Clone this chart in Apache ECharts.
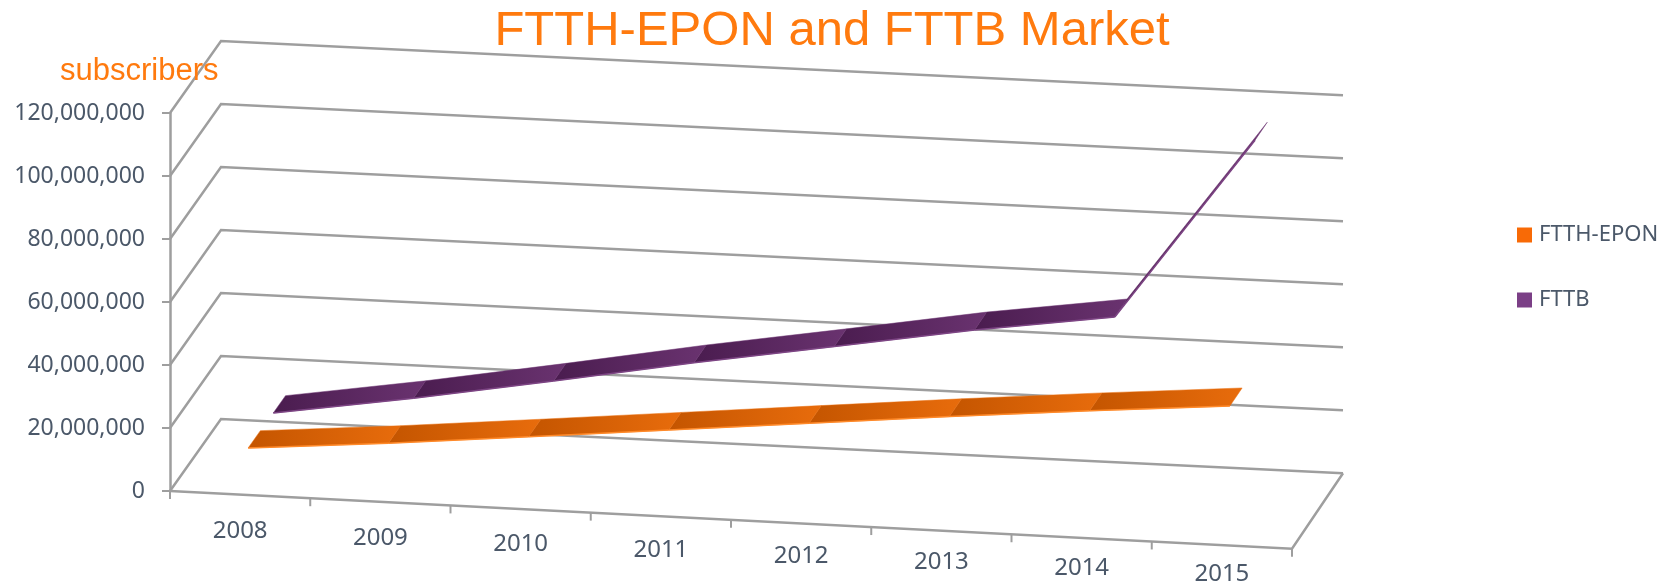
<!DOCTYPE html>
<html>
<head>
<meta charset="utf-8">
<script src="https://cdn.jsdelivr.net/npm/echarts@6/dist/echarts.min.js"></script>
<style>
html, body { margin: 0; padding: 0; background: #fff; }
#main { width: 1664px; height: 586px; }
</style>
</head>
<body>
<div id="main"></div>
<script>
var years = ['2008', '2009', '2010', '2011', '2012', '2013', '2014', '2015'];
var ftthEpon = [11200000, 15000000, 19300000, 23700000, 28100000, 32500000, 36600000, 40400000];
var fttb = [11000000, 17900000, 25600000, 33600000, 40900000, 48400000, 54700000, 113000000];
var yTicks = [0, 20000000, 40000000, 60000000, 80000000, 100000000, 120000000];

// oblique 3d look: front edge falls to the right, back wall a bit flatter
var SLOPE_FRONT = 0.0514;
var SLOPE_BACK = 0.0484;
var DEPTH = [51, -72];
var gridColor = '#9e9e9e';
var textColor = '#4b5869';

// cat: category index (fractional allowed), val: data value, d: depth 0 (front) .. 1 (back)
function project(api, cat, val, d) {
    var p0 = api.coord([0, val]);
    var bw = api.size([1, 0])[0];
    var run = (cat + 0.5) * bw;
    var slope = SLOPE_FRONT + (SLOPE_BACK - SLOPE_FRONT) * d;
    return [p0[0] - bw / 2 + run + d * DEPTH[0], p0[1] + run * slope + d * DEPTH[1]];
}

function ribbon(name, values, d0, d1, legendColor, dark, light, edge) {
    var segs = [];
    for (var i = 0; i < values.length - 1; i++) {
        segs.push([i, values[i], values[i + 1]]);
    }
    return {
        name: name,
        type: 'custom',
        itemStyle: {color: legendColor},
        data: segs,
        renderItem: function (params, api) {
            var i = api.value(0), a = api.value(1), b = api.value(2);
            var p1 = project(api, i, a, d0);
            var p2 = project(api, i + 1, b, d0);
            var p3 = project(api, i + 1, b, d1);
            var p4 = project(api, i, a, d1);
            return {
                type: 'group',
                children: [{
                    type: 'polygon',
                    shape: {points: [p1, p2, p3, p4]},
                    style: {
                        fill: new echarts.graphic.LinearGradient(0, 0, 1, 0, [
                            {offset: 0, color: dark},
                            {offset: 1, color: light}
                        ]),
                        stroke: light,
                        lineWidth: 0.5
                    }
                }, {
                    type: 'line',
                    shape: {x1: p1[0], y1: p1[1], x2: p2[0], y2: p2[1]},
                    style: {stroke: edge, lineWidth: 1.5}
                }]
            };
        }
    };
}

var dom = document.getElementById('main');
var myChart = echarts.init(dom);

var option = {
    animation: false,
    title: [{
        text: 'FTTH-EPON and FTTB Market',
        left: 'center',
        top: 2,
        textStyle: {fontSize: 49, fontWeight: 'normal', color: '#ff7a0e', fontFamily: 'Liberation Sans'}
    }, {
        text: 'subscribers',
        left: 55,
        top: 51,
        textStyle: {fontSize: 31, fontWeight: 'normal', color: '#ff7a0e', fontFamily: 'Liberation Sans'}
    }],
    legend: {
        data: ['FTTH-EPON', 'FTTB'],
        orient: 'vertical',
        left: 1517,
        top: 224,
        icon: 'rect',
        itemWidth: 15,
        itemHeight: 15,
        itemGap: 43,
        padding: 0,
        textStyle: {fontSize: 22, color: textColor, fontFamily: 'Noto Sans', padding: [0, 0, 0, 2]}
    },
    grid: {
        left: 170,
        top: 113,
        width: 1122,
        height: 378,
        outerBoundsMode: 'none'
    },
    xAxis: {
        type: 'category',
        data: years,
        show: false
    },
    yAxis: {
        type: 'value',
        min: 0,
        max: 120000000,
        interval: 20000000,
        axisLine: {show: true, lineStyle: {color: gridColor, width: 2.5}},
        axisTick: {show: true, length: 8, lineStyle: {color: gridColor, width: 2}},
        splitLine: {show: false},
        axisLabel: {
            margin: 25,
            fontSize: 23,
            color: textColor,
            fontFamily: 'Noto Sans',
            formatter: function (v) { return v.toLocaleString('en-US'); }
        }
    },
    series: [{
        type: 'custom',
        name: 'grid3d',
        silent: true,
        data: yTicks.map(function (v) { return [0, v]; }),
        renderItem: function (params, api) {
            var v = api.value(1);
            var n = years.length;
            var st = {stroke: gridColor, lineWidth: 2.5, fill: null};
            var fl = project(api, -0.5, v, 0);
            var bl = project(api, -0.5, v, 1);
            var br = project(api, n - 0.5, v, 1);
            var kids = [{type: 'polyline', shape: {points: [fl, bl, br]}, style: st}];
            if (v === 0) {
                var fr = project(api, n - 0.5, 0, 0);
                kids.push({type: 'polyline', shape: {points: [fl, fr, br]}, style: st});
                for (var i = 0; i <= n; i++) {
                    var t = project(api, i - 0.5, 0, 0);
                    kids.push({type: 'line', shape: {x1: t[0], y1: t[1], x2: t[0], y2: t[1] + 8},
                        style: {stroke: gridColor, lineWidth: 2}});
                }
            }
            return {type: 'group', children: kids};
        }
    }, {
        type: 'custom',
        name: 'yearLabels',
        silent: true,
        data: years.map(function (y, i) { return [i, 0]; }),
        renderItem: function (params, api) {
            var i = api.value(0);
            var p = project(api, i, 0, 0);
            return {
                type: 'text',
                x: p[0],
                y: p[1] + 37 - i * 8 / 7,
                style: {
                    text: years[params.dataIndex],
                    fontSize: 24,
                    fontFamily: 'Noto Sans',
                    fill: textColor,
                    align: 'center',
                    verticalAlign: 'middle'
                }
            };
        }
    },
        ribbon('FTTB', fttb, 0.65, 0.89, '#7b3f86', '#4a1c4f', '#6a3370', '#7d4584'),
        ribbon('FTTH-EPON', ftthEpon, 0.157, 0.397, '#f86a06', '#c45500', '#e86c0c', '#ff8a2a')
    ]
};

myChart.setOption(option, true);
</script>
</body>
</html>
